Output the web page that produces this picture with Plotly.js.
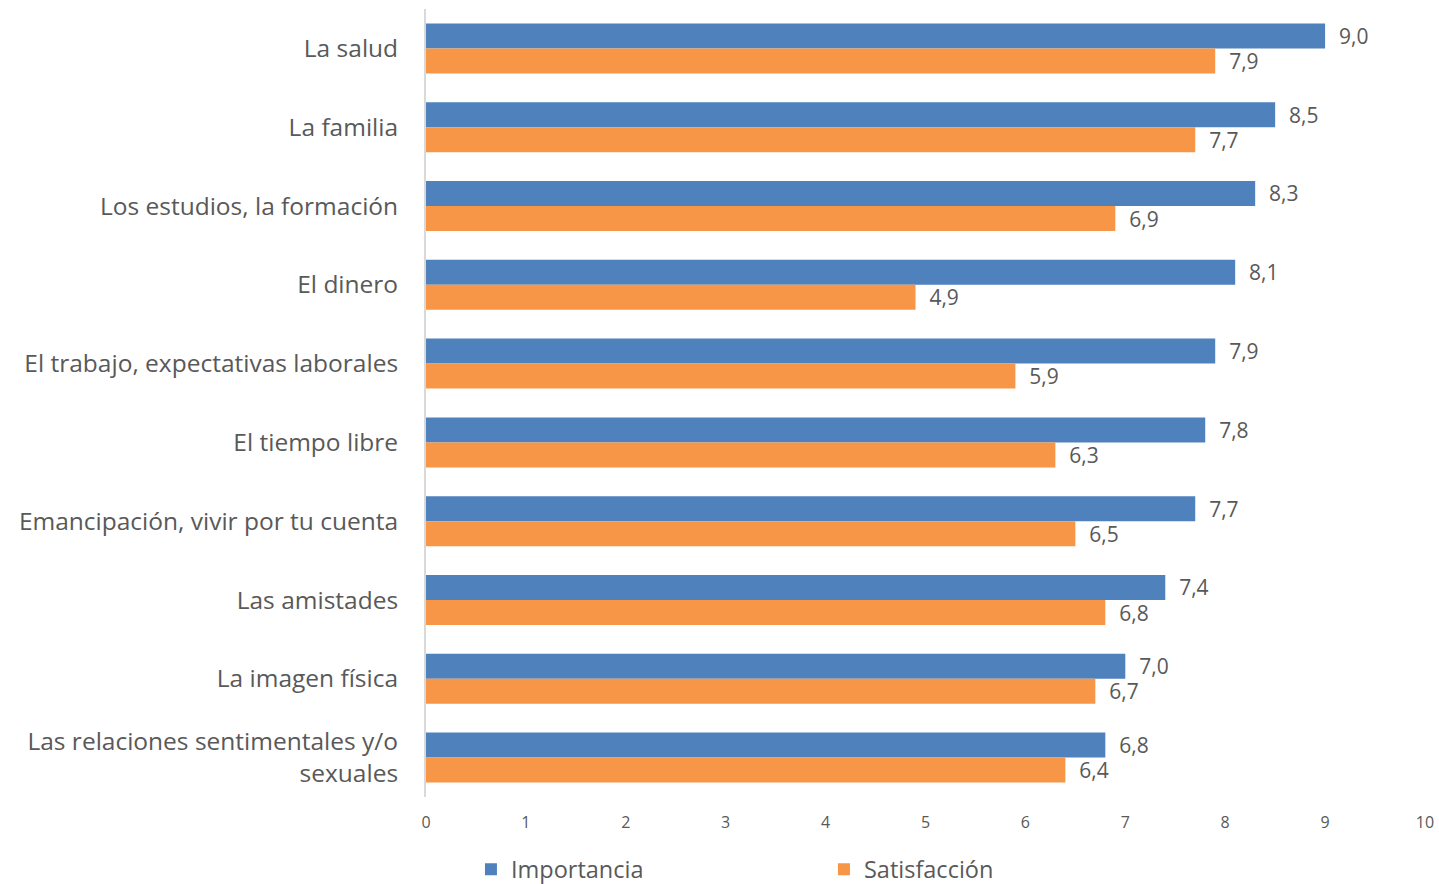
<!DOCTYPE html>
<html>
<head>
<meta charset="utf-8">
<script src="https://cdn.plot.ly/plotly-3.0.1.min.js"></script>
<style>html,body{margin:0;padding:0;background:#fff;}#chart{width:1439px;height:884px;}</style>
</head>
<body>
<div id="chart"></div>
<script>
var categories = [
  "La salud",
  "La familia",
  "Los estudios, la formación",
  "El dinero",
  "El trabajo, expectativas laborales",
  "El tiempo libre",
  "Emancipación, vivir por tu cuenta",
  "Las amistades",
  "La imagen física",
  "Las relaciones sentimentales y/o<br>sexuales"
];
var importancia = [9.0, 8.5, 8.3, 8.1, 7.9, 7.8, 7.7, 7.4, 7.0, 6.8];
var satisfaccion = [7.9, 7.7, 6.9, 4.9, 5.9, 6.3, 6.5, 6.8, 6.7, 6.4];
var seriesNames = ["Importancia", "Satisfacción"];
var xTicks = [0, 1, 2, 3, 4, 5, 6, 7, 8, 9, 10];

var fontFam = "'Open Sans', Lato, sans-serif";
var labelFont = {family: fontFam, size: 21, color: "#595959"};

var traces = [
  {
    type: "bar", orientation: "h", name: seriesNames[0],
    y: categories, x: importancia,
    marker: {color: "#4F81BD"},
    texttemplate: "\u00a0\u00a0%{x:.1f}", textposition: "outside",
    constraintext: "none",
    textfont: labelFont, cliponaxis: false, hoverinfo: "skip"
  },
  {
    type: "bar", orientation: "h", name: seriesNames[1],
    y: categories, x: satisfaccion,
    marker: {color: "#F79646"},
    texttemplate: "\u00a0\u00a0%{x:.1f}", textposition: "outside",
    constraintext: "none",
    textfont: labelFont, cliponaxis: false, hoverinfo: "skip"
  }
];

var layout = {
  width: 1439, height: 884,
  margin: {l: 426, r: 14, t: 9, b: 87, autoexpand: false},
  paper_bgcolor: "#fff", plot_bgcolor: "#fff",
  separators: ",.",
  barmode: "group",
  bargap: 0.365,
  bargroupgap: 0,
  font: {family: fontFam, color: "#595959"},
  xaxis: {
    range: [0, 10], tickvals: xTicks, ticktext: xTicks.map(String),
    showgrid: false, zeroline: false, showline: false,
    ticks: "", tickfont: {family: fontFam, size: 16, color: "#595959"},
    ticklabelstandoff: 14, automargin: false
  },
  yaxis: {
    autorange: "reversed", showgrid: false, zeroline: false,
    showline: true, linecolor: "#D9D9D9", linewidth: 2,
    ticks: "", tickfont: {family: fontFam, size: 24.5, color: "#595959"},
    ticklabelstandoff: 21, automargin: false
  },
  showlegend: true,
  legend: {
    orientation: "h", x: 0.045, xanchor: "left", y: -0.092, yanchor: "middle",
    font: {family: fontFam, size: 23.5, color: "#595959"},
    entrywidth: 308, entrywidthmode: "pixels",
    itemclick: false, itemdoubleclick: false
  }
};

Plotly.newPlot("chart", traces, layout, {staticPlot: true, displayModeBar: false});
</script>
</body>
</html>
